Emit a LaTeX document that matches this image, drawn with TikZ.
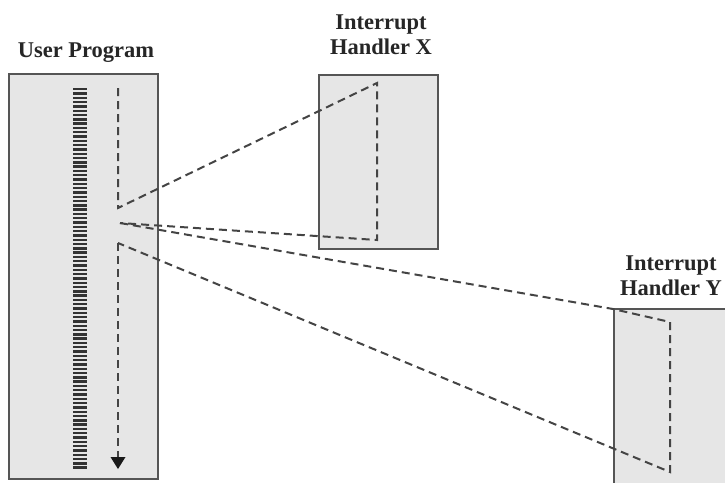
\documentclass[tikz,border=0pt]{standalone}
\usepackage{fontspec}
\setmainfont{Liberation Serif}
\usetikzlibrary{arrows.meta}
\definecolor{boxfill}{HTML}{E6E6E6}
\definecolor{boxline}{HTML}{555555}
\definecolor{flow}{HTML}{444444}
\definecolor{ruler}{HTML}{333333}
\tikzset{
  prog/.style={draw=boxline, line width=1.8pt, fill=boxfill, inner sep=0pt, anchor=north west},
  lbl/.style={font=\fontsize{22.5}{25}\selectfont\bfseries, text=black!85, align=center, inner sep=0pt},
  flowline/.style={draw=flow, line width=2pt, dash pattern=on 8pt off 5pt},
  rulerline/.style={draw=ruler, line width=14pt, dash pattern=on 2.4pt off 1.9pt},
  headtip/.style={fill=black!90, draw=none}
}
\begin{document}
\begin{tikzpicture}[x=1pt,y=-1pt]
\useasboundingbox (0,0) rectangle (725,482);
\clip (0,0) rectangle (725,482);
% boxes
\node[prog, minimum width=149pt, minimum height=405pt] (user) at (8,73) {};
\node[prog, minimum width=119pt, minimum height=174pt] (hx) at (318,74) {};
\node[prog, minimum width=130pt, minimum height=190pt] (hy) at (613,308) {};
% labels
\node[lbl] (luser) at (86,53) {User Program};
\node[lbl] (lhx) at (381,35) {Interrupt\\Handler X};
\node[lbl] (lhy) at (671,276) {Interrupt\\Handler Y};
% ruler of instructions
\coordinate (r1) at (80,88);
\coordinate (r2) at (80,470);
\draw[rulerline] (r1) -- (r2);
% flow of control
\coordinate (u1) at (118,88);
\coordinate (u2) at (118,208);
\coordinate (x1) at (377,83);
\coordinate (x2) at (377,240);
\coordinate (u3) at (120,223);
\coordinate (y1) at (613,309);
\coordinate (y2) at (670,322);
\coordinate (y3) at (670,472);
\coordinate (u4) at (118,243);
\coordinate (u5) at (118,457);
\coordinate (tip) at (118,469);
\draw[flowline] (u1) -- (u2) -- (x1) -- (x2) -- (u3);
\draw[flowline] (u3) -- (y1) -- (y2) -- (y3) -- (u4);
\draw[flowline] (u4) -- (u5);
\fill[headtip] (tip) -- ([xshift=-7.5pt]u5) -- ([xshift=7.5pt]u5) -- cycle;
\end{tikzpicture}
\end{document}
